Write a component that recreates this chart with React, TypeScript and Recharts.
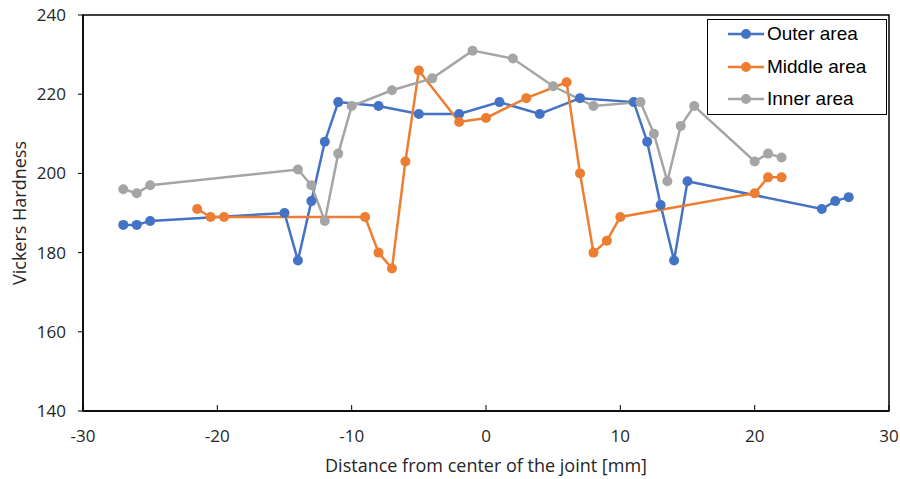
import { Line, LineChart, ReferenceArea, XAxis, YAxis } from "recharts"

const xTicks = [-30, -20, -10, 0, 10, 20, 30]
const yTicks = [140, 160, 180, 200, 220, 240]

const outerX = [-27, -26, -25, -15, -14, -13, -12, -11, -8, -5, -2, 1, 4, 7, 11, 12, 13, 14, 15, 25, 26, 27]
const outerY = [187, 187, 188, 190, 178, 193, 208, 218, 217, 215, 215, 218, 215, 219, 218, 208, 192, 178, 198, 191, 193, 194]

const middleX = [-21.5, -20.5, -19.5, -9, -8, -7, -6, -5, -2, 0, 3, 6, 7, 8, 9, 10, 20, 21, 22]
const middleY = [191, 189, 189, 189, 180, 176, 203, 226, 213, 214, 219, 223, 200, 180, 183, 189, 195, 199, 199]

const innerX = [-27, -26, -25, -14, -13, -12, -11, -10, -7, -4, -1, 2, 5, 8, 11.5, 12.5, 13.5, 14.5, 15.5, 20, 21, 22]
const innerY = [196, 195, 197, 201, 197, 188, 205, 217, 221, 224, 231, 229, 222, 217, 218, 210, 198, 212, 217, 203, 205, 204]

const zip = (xs: number[], ys: number[]) => xs.map((x, i) => ({ x, y: ys[i] }))

const series = [
  { name: "Outer area", color: "#4472C4", data: zip(outerX, outerY) },
  { name: "Middle area", color: "#ED7D31", data: zip(middleX, middleY) },
  { name: "Inner area", color: "#A5A5A5", data: zip(innerX, innerY) },
]

const tickFont = { fontFamily: "Open Sans", fontSize: 17, fill: "#262626" }
const titleFont = { fontFamily: "Open Sans", fontSize: 18, fill: "#262626" }

export default function App() {
  return (
    <div style={{ position: "absolute", left: 0, top: 0, width: 900, height: 479, background: "#fff" }}>
      <LineChart width={900} height={479} margin={{ top: 15, right: 11, left: 0, bottom: 0 }}>
        <XAxis
          dataKey="x"
          type="number"
          domain={[-30, 30]}
          ticks={xTicks}
          allowDataOverflow
          height={68}
          tickSize={-6}
          tickMargin={25}
          tick={tickFont}
          axisLine={{ stroke: "#000", strokeWidth: 1.5 }}
          tickLine={{ stroke: "#000" }}
          label={{
            value: "Distance from center of the joint [mm]",
            position: "insideBottom",
            offset: 7,
            style: titleFont,
          }}
        />
        <YAxis
          type="number"
          domain={[140, 240]}
          ticks={yTicks}
          allowDataOverflow
          width={83}
          tickSize={5}
          tickMargin={12}
          tick={tickFont}
          axisLine={{ stroke: "#000", strokeWidth: 1.5 }}
          tickLine={{ stroke: "#000" }}
          label={{
            value: "Vickers Hardness",
            angle: -90,
            position: "insideLeft",
            offset: 20,
            style: { ...titleFont, textAnchor: "middle" },
          }}
        />
        <ReferenceArea x1={-30} x2={30} y1={140} y2={240} fill="none" stroke="#000" strokeWidth={1.5} />
        {series.map((s) => (
          <Line
            key={s.name}
            data={s.data}
            dataKey="y"
            name={s.name}
            stroke={s.color}
            strokeWidth={2.5}
            dot={{ r: 5, fill: s.color, stroke: s.color, strokeWidth: 0 }}
            isAnimationActive={false}
          />
        ))}
      </LineChart>
      <div
        style={{
          position: "absolute",
          left: 707,
          top: 19,
          width: 180,
          height: 96,
          border: "1.5px solid #000",
          background: "#fff",
          boxSizing: "border-box",
          fontFamily: "Liberation Sans",
          fontSize: 19,
          color: "#000",
        }}
      >
        {series.map((s, i) => (
          <div
            key={s.name}
            style={{ position: "absolute", left: 20, top: 1 + i * 32.5, height: 26, display: "flex", alignItems: "center" }}
          >
            <svg width={36} height={12} style={{ marginRight: 3 }}>
              <line x1={0} y1={6} x2={36} y2={6} stroke={s.color} strokeWidth={2.5} />
              <circle cx={18} cy={6} r={5} fill={s.color} />
            </svg>
            <span>{s.name}</span>
          </div>
        ))}
      </div>
    </div>
  )
}
